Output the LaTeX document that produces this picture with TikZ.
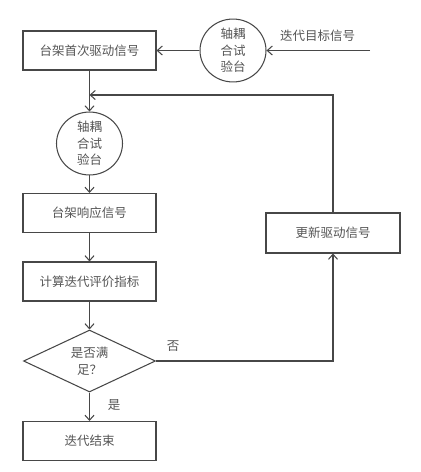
\documentclass[tikz,border=0pt]{standalone}
\usepackage{fontspec}
\newfontfamily\cjk{Noto Sans CJK SC}
\usetikzlibrary{shapes.geometric,arrows.meta}
\definecolor{ln}{HTML}{474747}
\definecolor{tx}{HTML}{555555}
\begin{document}
\begin{tikzpicture}[x=1pt,y=-1pt,
  every node/.style={font=\cjk\fontsize{12.5}{16.5}\selectfont, text=tx},
  box/.style={draw=ln, line width=1.05pt, minimum width=133pt, minimum height=39pt, inner sep=0pt},
  ell/.style={draw=ln, line width=1.05pt, ellipse, minimum width=66pt, minimum height=54pt, inner sep=0pt, align=center},
  dia/.style={draw=ln, line width=1.05pt, diamond, minimum width=132pt, minimum height=62pt, inner sep=0pt, align=center, aspect=2.13},
  con/.style={draw=ln, line width=1.05pt, -{Straight Barb[length=5pt,width=9pt,line width=1.05pt]}},
  lbl/.style={inner sep=0pt}]
\useasboundingbox (0,0) rectangle (421,472);
\node[box] (b1) at (89.5,50.5) {台架首次驱动信号};
\node[ell] (e1) at (233,50.5) {轴耦\\合试\\验台};
\coordinate (in) at (370,50.5);
\node[lbl, anchor=west] (tgt) at (280,36) {迭代目标信号};
\node[ell, minimum height=53pt] (e2) at (89.5,143.5) {轴耦\\合试\\验台};
\node[box] (b2) at (89.5,213) {台架响应信号};
\node[box] (b3) at (89.5,281.5) {计算迭代评价指标};
\node[dia, minimum width=132pt, minimum height=62pt] (d) at (89.5,361) {是否满\\足？};
\node[box] (b4) at (89.5,441) {迭代结束};
\node[box, minimum width=134pt, minimum height=40pt] (r) at (333,233) {更新驱动信号};
\coordinate (j) at (89.5,95);
\coordinate (rt) at (333,95);
\coordinate (dr) at (333,361);
\node[lbl] (no) at (173,346) {否};
\node[lbl] (yes) at (114,405) {是};
\draw[con] (in) -- (e1);
\draw[con] (e1) -- (b1);
\draw[con] (b1) -- (e2);
\draw[con] (e2) -- (b2);
\draw[con] (b2) -- (b3);
\draw[con] (b3) -- (d);
\draw[con] (d) -- (b4);
\draw[con] (d.east) -- (dr) -- (r.south);
\draw[con] (r.north) -- (rt) -- (j);
\end{tikzpicture}
\end{document}
